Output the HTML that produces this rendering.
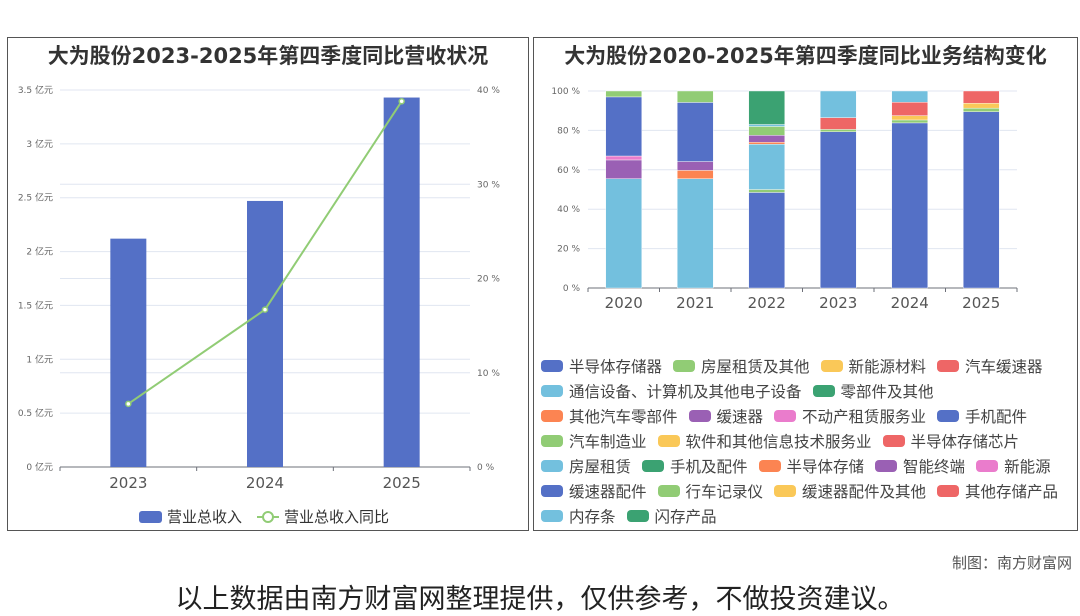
<!DOCTYPE html>
<html><head><meta charset="utf-8">
<style>
body{margin:0;width:1080px;height:614px;background:#fff;font-family:"DejaVu Sans","Noto Sans CJK SC",sans-serif;position:relative;overflow:hidden}
.panel{position:absolute;border:1px solid #555;box-sizing:border-box}
.title{position:absolute;left:0;right:0;top:2px;text-align:center;font-weight:bold;font-size:21px;color:#333;white-space:nowrap}
.lg{position:absolute;left:541px;top:353px;font-size:15.5px;color:#444}
.row{display:flex;height:25px;align-items:center;white-space:nowrap}
.it{display:flex;align-items:center;margin-right:11px}
.sw{width:22px;height:12px;border-radius:4px;margin-right:6px}
</style></head><body>
<div class="panel" style="left:7px;top:37px;width:522px;height:494px">
<div class="title">大为股份2023-2025年第四季度同比营收状况</div></div>
<div class="panel" style="left:533px;top:37px;width:545px;height:494px">
<div class="title">大为股份2020-2025年第四季度同比业务结构变化</div></div>
<svg id="c" width="1080" height="614" style="position:absolute;left:0;top:0" font-family="DejaVu Sans, Noto Sans CJK SC, sans-serif"></svg>
<div class="lg" id="lg"></div>
<div style="position:absolute;right:8px;top:552px;font-size:15px;color:#555">制图：南方财富网</div>
<div style="position:absolute;left:0;right:0;top:577px;text-align:center;font-size:27px;color:#222;white-space:nowrap">以上数据由南方财富网整理提供，仅供参考，不做投资建议。</div>
<script>
const years1=["2023","2024","2025"];
const revenue=[2.12,2.47,3.43];
const growth=[6.7,16.7,38.8];
const revTicks=[0,0.5,1,1.5,2,2.5,3,3.5];
const pctTicks=[0,10,20,30,40];
const years2=["2020","2021","2022","2023","2024","2025"];
const seriesNames=["半导体存储器","房屋租赁及其他","新能源材料","汽车缓速器","通信设备、计算机及其他电子设备","零部件及其他","其他汽车零部件","缓速器","不动产租赁服务业","手机配件","汽车制造业","软件和其他信息技术服务业","半导体存储芯片","房屋租赁","手机及配件","半导体存储","智能终端","新能源","缓速器配件","行车记录仪","缓速器配件及其他","其他存储产品","内存条","闪存产品"];
const colors=["#5470c6","#91cc75","#fac858","#ee6666","#73c0de","#3ba272","#fc8452","#9a60b4","#ea7ccc"];
const stack2020=[[4,55.5],[7,9.5],[8,2],[9,30],[1,3]];
const stack2021=[[4,55.5],[6,4.2],[7,4.5],[9,30],[1,5.8]];
const stack2022=[[0,48.5],[10,1.5],[13,23],[15,1],[16,3.5],[19,4.5],[22,1],[23,17]];
const stack2023=[[0,79.3],[1,1.2],[3,6],[4,13.5]];
const stack2024=[[0,83.8],[1,1.5],[2,2.2],[3,6.8],[4,5.7]];
const stack2025=[[0,89.5],[1,1.8],[2,2.5],[3,6.2]];
const stacks=[stack2020,stack2021,stack2022,stack2023,stack2024,stack2025];
const stackTicks=[0,20,40,60,80,100];

const svg=document.getElementById('c');const NS="http://www.w3.org/2000/svg";
function mk(t,a,txt){const e=document.createElementNS(NS,t);for(const k in a)e.setAttribute(k,a[k]);if(txt!=null)e.textContent=txt;svg.appendChild(e);return e;}
const L0=60,L1=470,B=467,T=90;
const yR=v=>B-(v/3.5)*(B-T), yP=v=>B-(v/40)*(B-T);
const xC=i=>L0+(i+0.5)*(L1-L0)/3;
revTicks.forEach(v=>{let g=mk('line',{x1:L0,x2:L1,y1:yR(v),y2:yR(v),stroke:'#e0e6f1'});
let t=mk('text',{x:53,y:yR(v)+3,'font-size':9,fill:'#666','text-anchor':'end'},v+' 亿元');});
pctTicks.forEach(v=>{let g=mk('line',{x1:L0,x2:L1,y1:yP(v),y2:yP(v),stroke:'#e0e6f1'});
let t=mk('text',{x:477,y:yP(v)+3,'font-size':9,fill:'#666'},v+' %');});
mk('line',{x1:L0,x2:L1,y1:B,y2:B,stroke:'#6e7079'});
[0,1,2,3].forEach(i=>mk('line',{x1:L0+i*(L1-L0)/3,x2:L0+i*(L1-L0)/3,y1:B,y2:B+4,stroke:'#6e7079'}));
revenue.forEach((v,i)=>{let r=mk('rect',{x:xC(i)-18,y:yR(v),width:36,height:B-yR(v),fill:'#5470c6'});
let t=mk('text',{x:xC(i),y:488,'font-size':15,fill:'#555','text-anchor':'middle'},years1[i]);});
let pl=mk('polyline',{points:growth.map((v,i)=>xC(i)+','+yP(v)).join(' '),fill:'none',stroke:'#91cc75','stroke-width':2});

growth.forEach((v,i)=>{let c=mk('circle',{cx:xC(i),cy:yP(v),r:2.5,fill:'#fff',stroke:'#91cc75','stroke-width':1.5});});
let lr=mk('rect',{x:139,y:511,width:23,height:12,rx:3,fill:'#5470c6'});
let lt=mk('text',{x:167,y:522,'font-size':15,fill:'#333'},'营业总收入');
mk('line',{x1:257,x2:279,y1:517,y2:517,stroke:'#91cc75','stroke-width':2});
mk('circle',{cx:268,cy:517,r:5,fill:'#fff',stroke:'#91cc75','stroke-width':2});
let lt2=mk('text',{x:284,y:522,'font-size':15,fill:'#333'},'营业总收入同比');
const R0=588,R1=1017,RB=288,RT=91;
const yS=v=>RB-(v/100)*(RB-RT), xS=i=>R0+(i+0.5)*(R1-R0)/6;
stackTicks.forEach(v=>{let g=mk('line',{x1:R0,x2:R1,y1:yS(v),y2:yS(v),stroke:'#e0e6f1'});
let t=mk('text',{x:580,y:yS(v)+3,'font-size':9,fill:'#666','text-anchor':'end'},v+' %');});
mk('line',{x1:R0,x2:R1,y1:RB,y2:RB,stroke:'#6e7079'});
for(let i=0;i<=6;i++)mk('line',{x1:R0+i*(R1-R0)/6,x2:R0+i*(R1-R0)/6,y1:RB,y2:RB+4,stroke:'#6e7079'});
stacks.forEach((st,i)=>{let acc=0;st.forEach(([s,v])=>{let r=mk('rect',{x:xS(i)-18,y:yS(acc+v),width:36,height:yS(acc)-yS(acc+v),fill:colors[s%9],stroke:'#fff','stroke-width':0.4});
acc+=v;});
let t=mk('text',{x:xS(i),y:308,'font-size':15,fill:'#555','text-anchor':'middle'},years2[i]);});
const rows=[[0,1,2,3],[4,5],[6,7,8,9],[10,11,12],[13,14,15,16,17],[18,19,20,21],[22,23]];
const lg=document.getElementById('lg');
rows.forEach(r=>{const d=document.createElement('div');d.className='row';r.forEach(s=>{const it=document.createElement('div');it.className='it';


it.innerHTML='<span class="sw" style="background:'+colors[s%9]+'"></span>'+seriesNames[s];d.appendChild(it);});lg.appendChild(d);});
</script>
</body></html>
